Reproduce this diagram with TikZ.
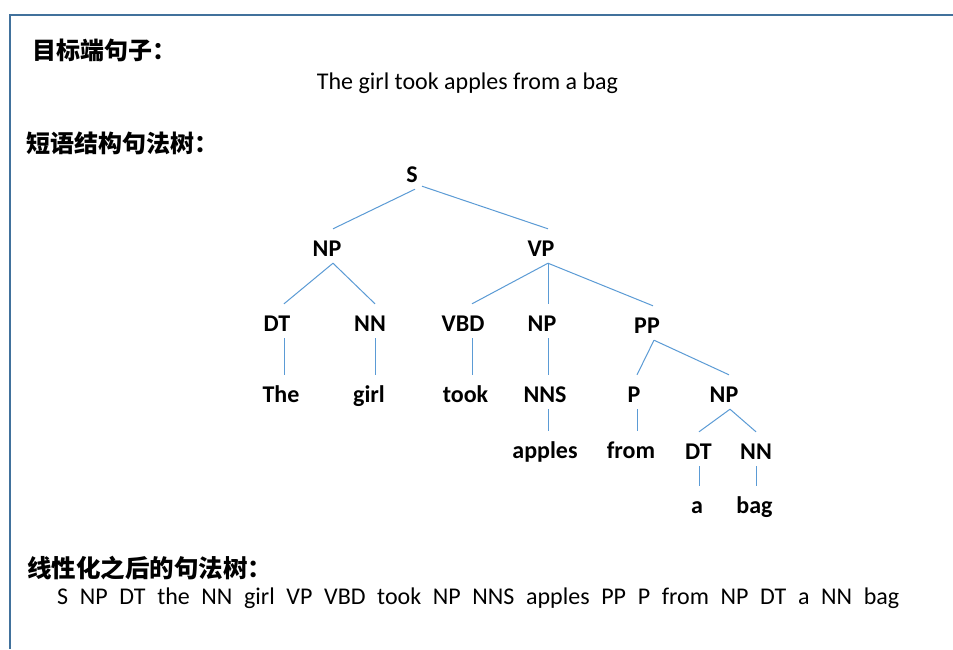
\documentclass[tikz,border=0pt]{standalone}
\usepackage{fontspec}
\setmainfont{Carlito}
\newfontfamily\cjk{Noto Sans CJK SC}
\definecolor{framec}{RGB}{65,113,156}
\definecolor{treec}{RGB}{91,155,213}
\begin{document}
\begin{tikzpicture}[x=1pt,y=-1pt,
  tn/.style={inner xsep=0pt, inner ysep=7pt, text height=20pt, text depth=0pt, anchor=base, font=\fontsize{24}{28}\selectfont\bfseries},
  hd/.style={inner sep=0pt, anchor=base west, font=\fontsize{24}{28}\selectfont\cjk\bfseries},
  tx/.style={inner sep=0pt, font=\fontsize{24}{28}\selectfont},
  tl/.style={draw=treec, line width=1pt}]
\useasboundingbox (0,0) rectangle (953,649);
\fill[white] (0,0) rectangle (953,649);
\draw[framec, line width=2pt] (953,15) -- (10,15) -- (10,649);

\node[hd] (h1) at (32,59) {目标端句子：};
\node[tx, anchor=base] (sent) at (467.5,89) {The girl took apples from a bag};
\node[hd] (h2) at (26,152) {短语结构句法树：};
\node[hd] (h3) at (27,577) {\fontsize{24.5}{28}\selectfont 线性化之后的句法树：};
\node[tx, anchor=base west] (lin) at (57,604) {\makebox[842pt][s]{S NP DT the NN girl VP VBD took NP NNS apples PP P from NP DT a NN bag}};

% tree nodes
\node[tn] (S) at (412,182) {S};
\node[tn] (NPa) at (327,256) {NP};
\node[tn] (VP) at (541,256) {VP};
\node[tn] (DTa) at (277,331) {DT};
\node[tn] (NNa) at (370,331) {NN};
\node[tn] (VBD) at (463,331) {VBD};
\node[tn] (NPb) at (542,331) {NP};
\node[tn] (PP) at (647,333) {PP};
\node[tn] (The) at (281,402) {The};
\node[tn] (girl) at (369,402) {girl};
\node[tn] (took) at (465.5,402) {took};
\node[tn] (NNS) at (545,402) {NNS};
\node[tn] (P) at (634,402) {P};
\node[tn] (NPc) at (724,402) {NP};
\node[tn] (apples) at (545,458) {apples};
\node[tn] (from) at (631,458) {from};
\node[tn] (DTb) at (698.5,459) {DT};
\node[tn] (NNb) at (756,459) {NN};
\node[tn] (a) at (697,513) {a};
\node[tn] (bag) at (754.5,513) {bag};

% edges
\draw[tl] ([xshift=3]S.south) -- ([xshift=6]NPa.north);
\draw[tl] ([xshift=10,yshift=3]S.south) -- ([xshift=7]VP.north);
\draw[tl] ([xshift=6]NPa.south) -- ([xshift=7]DTa.north);
\draw[tl] ([xshift=6]NPa.south) -- ([xshift=5]NNa.north);
\draw[tl] ([xshift=7]VP.south) -- ([xshift=9]VBD.north);
\draw[tl] ([xshift=7]VP.south) -- ([xshift=6]NPb.north);
\draw[tl] ([xshift=7]VP.south) -- ([xshift=6]PP.north);
\draw[tl] ([xshift=7]PP.south) -- ([xshift=3]P.north);
\draw[tl] ([xshift=7]PP.south) -- ([xshift=5]NPc.north);
\draw[tl] ([xshift=6]NPc.south) -- ([xshift=0.5]DTb.north);
\draw[tl] ([xshift=6]NPc.south) -- (NNb.north);
\draw[tl] ([xshift=7]DTa.south) -- ([xshift=7]DTa.south |- The.north);
\draw[tl] ([xshift=5]NNa.south) -- ([xshift=5]NNa.south |- girl.north);
\draw[tl] ([xshift=9]VBD.south) -- ([xshift=9]VBD.south |- took.north);
\draw[tl] ([xshift=6]NPb.south) -- ([xshift=6]NPb.south |- NNS.north);
\draw[tl] ([xshift=3]NNS.south) -- ([xshift=3]NNS.south |- apples.north);
\draw[tl] ([xshift=3]P.south) -- ([xshift=3]P.south |- from.north);
\draw[tl] ([xshift=0.5]DTb.south) -- ([xshift=0.5]DTb.south |- a.north);
\draw[tl] (NNb.south) -- (NNb.south |- bag.north);
\end{tikzpicture}
\end{document}
